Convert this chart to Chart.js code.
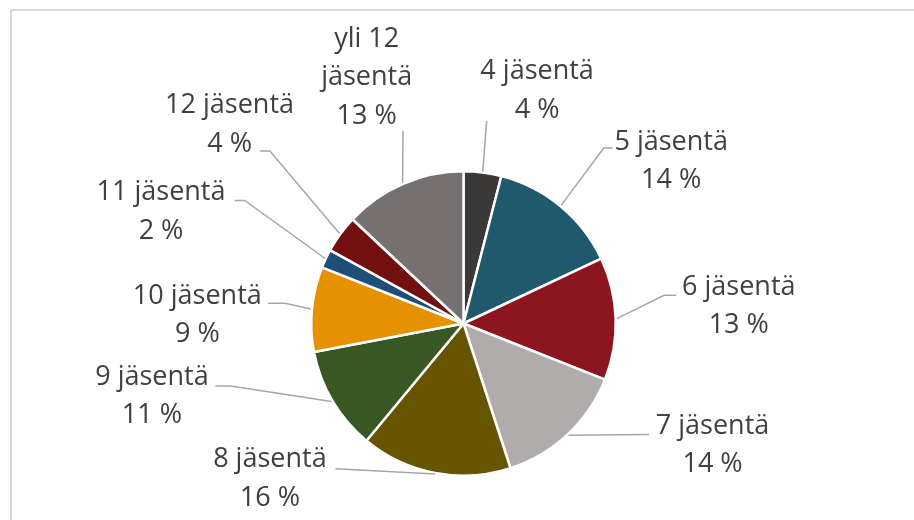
<!DOCTYPE html>
<html>
<head>
<meta charset="utf-8">
<script src="https://cdn.jsdelivr.net/npm/chart.js@4/dist/chart.umd.min.js"></script>
<style>
  html, body { margin: 0; padding: 0; background: #fff; }
  #wrap { width: 914px; height: 520px; }
</style>
</head>
<body>
<div id="wrap"><canvas id="chart" width="914" height="520"></canvas></div>
<script>
// Tiedot
const categories = ['4 jäsentä', '5 jäsentä', '6 jäsentä', '7 jäsentä', '8 jäsentä',
  '9 jäsentä', '10 jäsentä', '11 jäsentä', '12 jäsentä', 'yli 12 jäsentä'];
const shares = [4, 14, 13, 14, 16, 11, 9, 2, 4, 13];
const colors = ['#3b3937', '#1f596b', '#8c1520', '#b0acab', '#665400',
  '#385723', '#e69100', '#1f4e79', '#720f0f', '#767170'];

// Selitteiden paikat suhteessa ympyrän keskipisteeseen (px, säde 151)
const labelPos = [[73, -231], [206, -161], [273, -17], [247, 121], [-192, 154],
  [-309, 72], [-264, -8], [-300, -111], [-232, -197], [-96, -244]];
const leaderPts = [
  [[23, -201]],
  [[139, -174], [148, -174]],
  [[199, -28], [211, -28]],
  [[184, 110]],
  [[-127, 144]],
  [[-231, 62], [-246, 62]],
  [[-177, -20], [-194, -20]],
  [[-217, -122], [-227, -122]],
  [[-192, -171], [-202, -171]],
  [[-60, -191]]
];

const FONT = '27px "Open Sans", Calibri, sans-serif';

function wrapText(ctx, text, maxW) {
  const words = text.split(' ');
  const lines = [];
  let cur = '';
  words.forEach(w => {
    const t = cur ? cur + ' ' + w : w;
    if (ctx.measureText(t).width > maxW && cur) { lines.push(cur); cur = w; }
    else cur = t;
  });
  lines.push(cur);
  return lines;
}

const framePlugin = {
  id: 'frame',
  beforeDraw(chart) {
    const ctx = chart.ctx;
    ctx.save();
    ctx.strokeStyle = '#d9d9d9';
    ctx.lineWidth = 2;
    ctx.beginPath();
    ctx.moveTo(11, 520);
    ctx.lineTo(11, 10);
    ctx.lineTo(914, 10);
    ctx.stroke();
    ctx.restore();
  }
};

const labelPlugin = {
  id: 'pieLabels',
  afterDatasetsDraw(chart) {
    const ctx = chart.ctx;
    const arcs = chart.getDatasetMeta(0).data;
    const total = shares.reduce((a, b) => a + b, 0);
    ctx.save();
    arcs.forEach((arc, i) => {
      const {x, y, startAngle, endAngle, outerRadius} = arc.getProps(['x', 'y', 'startAngle', 'endAngle', 'outerRadius'], true);
      const k = outerRadius / 151;
      const mid = (startAngle + endAngle) / 2;
      // viiva
      ctx.strokeStyle = '#a6a6a6';
      ctx.lineWidth = 1.5;
      ctx.beginPath();
      ctx.moveTo(x + Math.cos(mid) * (outerRadius + 1), y + Math.sin(mid) * (outerRadius + 1));
      leaderPts[i].forEach(p => ctx.lineTo(x + p[0] * k, y + p[1] * k));
      ctx.stroke();
      // teksti
      ctx.font = FONT;
      ctx.fillStyle = '#404040';
      ctx.textAlign = 'center';
      ctx.textBaseline = 'middle';
      const pct = Math.round(shares[i] / total * 100) + ' %';
      const lines = wrapText(ctx, categories[i], 150).concat([pct]);
      const lh = 38.5;
      const cx = x + labelPos[i][0] * k;
      const cy = y + labelPos[i][1] * k - (lines.length - 1) * lh / 2;
      lines.forEach((l, j) => ctx.fillText(l, cx, cy + j * lh));
    });
    ctx.restore();
  }
};

new Chart(document.getElementById('chart').getContext('2d'), {
  type: 'pie',
  data: {
    labels: categories,
    datasets: [{
      data: shares,
      backgroundColor: colors,
      borderColor: '#ffffff',
      borderWidth: 2.5,
      hoverOffset: 0
    }]
  },
  options: {
    responsive: false,
    animation: false,
    layout: { padding: { top: 170, bottom: 43, left: 310, right: 297 } },
    plugins: {
      legend: { display: false },
      tooltip: { enabled: false }
    }
  },
  plugins: [framePlugin, labelPlugin]
});
</script>
</body>
</html>
